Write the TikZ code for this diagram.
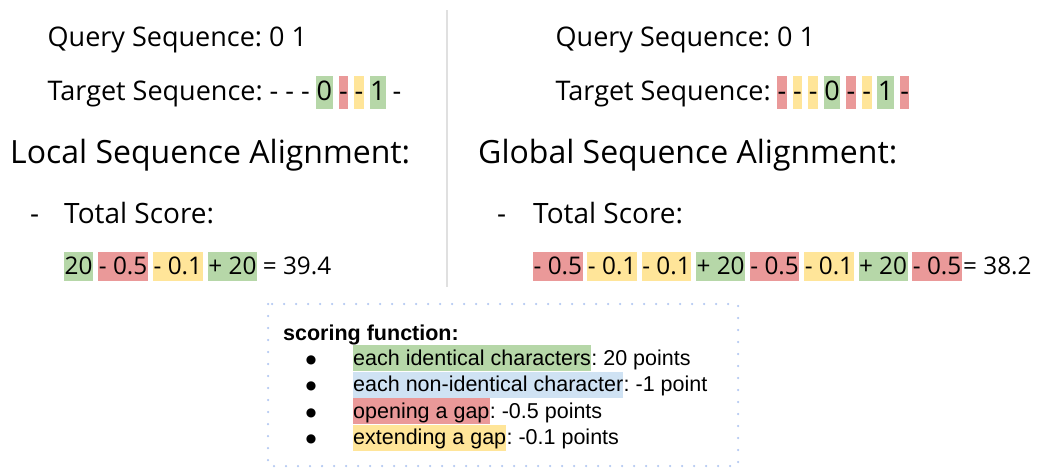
\documentclass[tikz,border=0pt]{standalone}
\usepackage{fontspec}
\setmainfont{Open Sans}
\newfontfamily\arialfont{Liberation Sans}
\newfontfamily\symfont{DejaVu Sans}
\usetikzlibrary{positioning}
\frenchspacing
\definecolor{hlgreen}{HTML}{B6D7A8}
\definecolor{hlred}{HTML}{EA9999}
\definecolor{hlyellow}{HTML}{FFE599}
\definecolor{hlblue}{HTML}{CFE2F3}
\definecolor{rulegrey}{HTML}{E0E0E0}
\definecolor{boxdots}{HTML}{B4C9F2}
\tikzset{
  seqtok/.style={font=\fontsize{27}{32}\selectfont, inner xsep=0.5pt, inner ysep=0pt, text height=25pt, text depth=8pt},
  headtxt/.style={font=\fontsize{32}{38}\selectfont, inner sep=0pt, anchor=base west},
  subtxt/.style={font=\fontsize{28}{34}\selectfont, inner sep=0pt, anchor=base west},
  scoretok/.style={font=\fontsize{24.3}{30}\selectfont, inner xsep=0.5pt, inner ysep=0pt, text height=22pt, text depth=7pt},
  ruletxt/.style={font=\arialfont\fontsize{21.5}{26}\selectfont, inner xsep=0pt, inner ysep=0pt, text height=20pt, text depth=6pt},
  bullettxt/.style={font=\symfont\fontsize{12}{12}\selectfont, inner sep=0pt, anchor=base},
}
\begin{document}
\begin{tikzpicture}[x=1pt,y=-1pt]
\useasboundingbox (0,0) rectangle (1041,468);
% divider
\draw[rulegrey, line width=2pt] (447,10) -- (447,287);

% ---- local alignment (left)
\node[seqtok, anchor=base west] (lq) at (47,47) {Query Sequence: 0 1};
\node[seqtok, anchor=base west] (lt0) at (47,101) {Target Sequence: - - -};
\foreach \t/\c [count=\i, remember=\i as \j (initially 0)] in {0/hlgreen,-/hlred,-/hlyellow,1/hlgreen,-/none}
  \node[seqtok, fill=\c, right=5.5pt of lt\j] (lt\i) {\t};
\node[headtxt] (lhead) at (10,163) {Local Sequence Alignment:};
\node[subtxt] (ldash) at (30,223) {-};
\node[subtxt] (ltot) at (64,223) {Total Score:};
\node[scoretok, anchor=base west, fill=hlgreen] (ls1) at (64,274) {20};
\foreach \t/\c [count=\i from 2, remember=\i as \j (initially 1)] in {- 0.5/hlred,- 0.1/hlyellow,+ 20/hlgreen,= 39.4/none}
  \node[scoretok, fill=\c, right=5pt of ls\j] (ls\i) {\t};

% ---- global alignment (right)
\node[seqtok, anchor=base west] (gq) at (555,47) {Query Sequence: 0 1};
\node[seqtok, anchor=base west] (gt0) at (555,101) {Target Sequence:};
\foreach \t/\c [count=\i, remember=\i as \j (initially 0)] in {-/hlred,-/hlyellow,-/hlyellow,0/hlgreen,-/hlred,-/hlyellow,1/hlgreen,-/hlred}
  \node[seqtok, fill=\c, right=5.5pt of gt\j] (gt\i) {\t};
\node[headtxt] (ghead) at (478,163) {Global Sequence Alignment:};
\node[subtxt] (gdash) at (497,223) {-};
\node[subtxt] (gtot) at (533,223) {Total Score:};
\node[scoretok, anchor=base west, fill=hlred] (gs1) at (533,274) {- 0.5};
\foreach \t/\c [count=\i from 2, remember=\i as \j (initially 1)] in {- 0.1/hlyellow,- 0.1/hlyellow,+ 20/hlgreen,- 0.5/hlred,- 0.1/hlyellow,+ 20/hlgreen,- 0.5/hlred}
  \node[scoretok, fill=\c, right=4.5pt of gs\j] (gs\i) {\t};
\node[scoretok, right=0.5pt of gs8] (gsum) {= 38.2};

% ---- scoring function box
\draw[boxdots, line width=2.5pt, line cap=round, dash pattern=on 0pt off 12pt] (268,304) rectangle (738,466);
\node[font=\arialfont\bfseries\fontsize{21.5}{26}\selectfont, inner sep=0pt, anchor=base west] (sfhead) at (283,340) {scoring function:};
\foreach \t/\c/\v [count=\i] in {each identical characters/hlgreen/20 points,each non-identical character/hlblue/-1 point,opening a gap/hlred/-0.5 points,extending a gap/hlyellow/-0.1 points}{
  \node[ruletxt, anchor=base west, fill=\c] (sf\i) at (353,{365+26.5*(\i-1)}) {\t};
  \node[ruletxt, right=0pt of sf\i] (sv\i) {: \v};
  \node[bullettxt] (sb\i) at (311,{363+26.5*(\i-1)}) {●};
}
\end{tikzpicture}
\end{document}
